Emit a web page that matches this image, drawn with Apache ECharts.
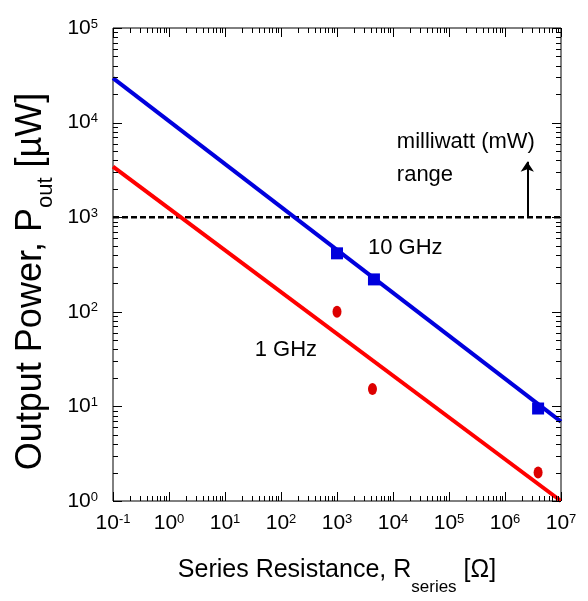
<!DOCTYPE html>
<html>
<head>
<meta charset="utf-8">
<script src="https://cdn.jsdelivr.net/npm/echarts@6/dist/echarts.min.js"></script>
<style>
html, body { margin: 0; padding: 0; background: #fff; }
#chart { width: 588px; height: 601px; }
</style>
</head>
<body>
<div id="chart"></div>
<script>
// decades shown on each axis
var xDecades = [0.1, 1, 10, 100, 1e3, 1e4, 1e5, 1e6, 1e7];
var yDecades = [1, 10, 100, 1e3, 1e4, 1e5];

// fitted lines (end points)
var fit10GHz = [[0.1, 29500], [1e7, 6.9]];
var fit1GHz = [[0.1, 3420], [1e7, 1.0]];
// measured points
var meas10GHz = [[1000, 415], [4570, 220], [3.9e6, 9.5]];
var meas1GHz = [[1000, 100], [4300, 15.3], [3.9e6, 2.0]];
// mW threshold and arrow
var mwLevel = [[0.1, 1000], [1e7, 1000]];
var mwArrow = [[2.5e6, 1000], [2.5e6, 3860]];
// text notes
var noteText = ['milliwatt (mW)', 'range', '10 GHz', '1 GHz'];
var noteAt = [[1.17e4, 6300], [1.17e4, 2790], [3570, 472], [34, 39.5]];

var font = 'Liberation Sans, Arial, sans-serif';

// minor ticks 2..9 inside each decade
function minors(decades) {
  var out = [];
  for (var i = 0; i < decades.length - 1; i++) {
    for (var k = 2; k <= 9; k++) out.push(decades[i] * k);
  }
  return out;
}

function powLabel(v) {
  var e = Math.round(Math.log(v) / Math.LN10);
  return '{b|10}{s|' + e + '}';
}

var tickRich = {
  b: { fontSize: 21, fontFamily: font, color: '#000' },
  s: { fontSize: 13, fontFamily: font, color: '#000', verticalAlign: 'top' }
};

// inward ticks on both sides of the frame, placed by the axes' own scales
function tickSeries(kind, values, len) {
  return {
    type: 'custom',
    silent: true,
    clip: false,
    z: 5,
    data: values.map(function (v) {
      return kind === 'x' ? [v, yDecades[0]] : [xDecades[0], v];
    }),
    renderItem: function (params, api) {
      var cs = params.coordSys;
      var st = { stroke: '#000', lineWidth: 1 };
      if (kind === 'x') {
        var x = Math.round(api.coord([api.value(0), yDecades[0]])[0]) + 0.5;
        var b = cs.y + cs.height;
        return {
          type: 'group',
          children: [
            { type: 'line', shape: { x1: x, y1: b, x2: x, y2: b - len }, style: st },
            { type: 'line', shape: { x1: x, y1: cs.y, x2: x, y2: cs.y + len }, style: st }
          ]
        };
      }
      var y = Math.round(api.coord([xDecades[0], api.value(1)])[1]) + 0.5;
      var r = cs.x + cs.width;
      return {
        type: 'group',
        children: [
          { type: 'line', shape: { x1: cs.x, y1: y, x2: cs.x + len, y2: y }, style: st },
          { type: 'line', shape: { x1: r, y1: y, x2: r - len, y2: y }, style: st }
        ]
      };
    }
  };
}

var chart = echarts.init(document.getElementById('chart'));

var option = {
  animation: false,
  backgroundColor: '#fff',
  grid: {
    left: 113, right: 27, top: 28, bottom: 100,
    containLabel: false, outerBoundsMode: 'none',
    show: true, borderColor: '#000', borderWidth: 1, backgroundColor: 'transparent'
  },
  xAxis: {
    type: 'log', logBase: 10,
    min: xDecades[0], max: xDecades[xDecades.length - 1],
    axisLine: { show: false },
    axisTick: { show: false },
    splitLine: { show: false },
    minorTick: { show: false },
    axisLabel: { show: true, customValues: xDecades, formatter: powLabel, rich: tickRich, margin: 12 },
    name: '{t|Series Resistance, R}{sub|series}{t| [Ω]}',
    nameLocation: 'middle',
    nameGap: 44,
    nameTextStyle: {
      rich: {
        t: { fontSize: 25, fontFamily: font, color: '#000' },
        sub: { fontSize: 17, fontFamily: font, color: '#000', padding: [34, 0, 0, 0] }
      }
    }
  },
  yAxis: {
    type: 'log', logBase: 10,
    min: yDecades[0], max: yDecades[yDecades.length - 1],
    axisLine: { show: false },
    axisTick: { show: false },
    splitLine: { show: false },
    minorTick: { show: false },
    axisLabel: { show: true, customValues: yDecades, formatter: powLabel, rich: tickRich, margin: 15 },
    name: '{t|Output Power, P}{sub|out}{t| [µW]}',
    nameLocation: 'middle',
    nameGap: 51,
    nameTextStyle: {
      padding: [0, 34, 0, 0],
      rich: {
        t: { fontSize: 36, fontFamily: font, color: '#000' },
        sub: { fontSize: 22, fontFamily: font, color: '#000', padding: [28, 0, 0, 0] }
      }
    }
  },
  series: [
    tickSeries('x', xDecades, 9),
    tickSeries('x', minors(xDecades), 5),
    tickSeries('y', yDecades, 9),
    tickSeries('y', minors(yDecades), 5),
    {
      type: 'line', data: mwLevel, symbol: 'none', silent: true,
      lineStyle: { color: '#000', width: 2.5, type: [6, 3] },
      markLine: {
        silent: true,
        symbol: ['none', 'arrow'],
        symbolSize: 10,
        label: { show: false },
        lineStyle: { color: '#000', width: 2, type: 'solid' },
        data: [[{ coord: mwArrow[0] }, { coord: mwArrow[1] }]]
      }
    },
    {
      type: 'line', data: fit10GHz, symbol: 'none', silent: true,
      lineStyle: { color: '#0000dd', width: 4 }
    },
    {
      type: 'line', data: fit1GHz, symbol: 'none', silent: true,
      lineStyle: { color: '#ff0000', width: 4 }
    },
    {
      type: 'scatter', data: meas10GHz, symbol: 'rect', symbolSize: 12,
      itemStyle: { color: '#0000dd', opacity: 1 }
    },
    {
      type: 'scatter', data: meas1GHz, symbol: 'circle', symbolSize: [9, 12],
      itemStyle: { color: '#dd0000', opacity: 1 }
    },
    {
      type: 'scatter', symbolSize: 0, silent: true,
      itemStyle: { opacity: 1 },
      data: noteText.map(function (t, i) { return { name: t, value: noteAt[i] }; }),
      label: {
        show: true, position: 'right', distance: 0,
        formatter: function (p) { return p.name; },
        fontSize: 22, fontFamily: font, color: '#000'
      }
    }
  ]
};

chart.setOption(option);
</script>
</body>
</html>
